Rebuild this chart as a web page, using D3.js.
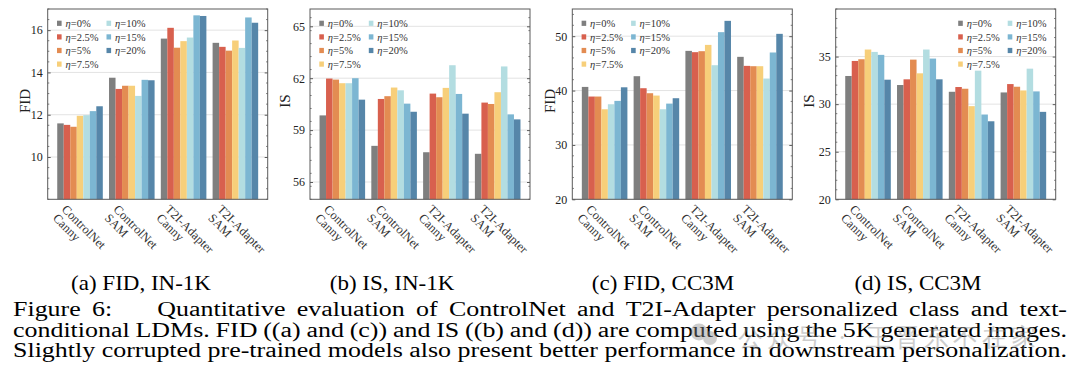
<!DOCTYPE html>
<html>
<head>
<meta charset="utf-8">
<script src="https://cdn.jsdelivr.net/npm/d3@7"></script>
<style>
  body { margin: 0; background: #fff; }
  svg text { font-family: "Liberation Serif", "DejaVu Serif", serif; }
</style>
</head>
<body>
<script>

// data
var categories = [["ControlNet", "Canny"], ["ControlNet", "SAM"], ["T2I-Adapter", "Canny"], ["T2I-Adapter", "SAM"]];
var etaLabels = ["0%", "2.5%", "5%", "7.5%", "10%", "15%", "20%"];

var fidIN1K = [[11.59, 11.52, 11.43, 11.95, 11.98, 12.17, 12.40],
               [13.75, 13.22, 13.37, 13.37, 12.89, 13.65, 13.63],
               [15.60, 16.11, 15.17, 15.48, 15.65, 16.70, 16.67],
               [15.40, 15.21, 15.03, 15.51, 15.16, 16.60, 16.35]];
var isIN1K = [[59.85, 61.98, 61.92, 61.71, 61.71, 62.00, 60.76],
              [58.09, 60.80, 60.96, 61.46, 61.30, 60.53, 60.06],
              [57.72, 61.11, 60.90, 61.44, 62.75, 61.09, 59.95],
              [57.63, 60.59, 60.51, 61.19, 62.68, 59.91, 59.62]];
var fidCC3M = [[40.67, 38.90, 38.90, 36.56, 37.48, 38.10, 40.60],
               [42.64, 40.43, 39.51, 39.08, 36.56, 37.60, 38.59],
               [47.30, 47.06, 47.24, 48.40, 44.66, 50.74, 52.82],
               [46.20, 44.54, 44.48, 44.48, 42.21, 47.00, 50.43]];
var isCC3M = [[32.96, 34.54, 34.72, 35.74, 35.49, 35.18, 32.57],
              [32.01, 32.61, 34.68, 33.24, 35.74, 34.79, 32.61],
              [31.30, 31.80, 31.62, 29.79, 33.52, 28.91, 28.20],
              [31.23, 32.11, 31.83, 31.44, 33.73, 31.34, 29.19]];

var fidIN1KTicks = [10, 12, 14, 16];
var isIN1KTicks = [56, 59, 62, 65];
var fidCC3MTicks = [20, 30, 40, 50];
var isCC3MTicks = [20, 25, 30, 35];

var colors = ["#7f7f7f", "#d8604e", "#e38c52", "#f7cf7a", "#b3dde1", "#7cb6d2", "#5686a9"];

var panels = [
  { values: fidIN1K, ticks: fidIN1KTicks, domain: [8, 17],  minor: 0.5, ylabel: "FID", left: 47.7,  labelX: 25,  legendX: 9.3,   caption: "(a) FID, IN-1K", capX: 141 },
  { values: isIN1K,  ticks: isIN1KTicks,  domain: [55, 66], minor: 0.75, ylabel: "IS", left: 310,   labelX: 285, legendX: 9.3,   caption: "(b) IS, IN-1K",  capX: 392 },
  { values: fidCC3M, ticks: fidCC3MTicks, domain: [20, 55], minor: 2,   ylabel: "FID", left: 572.3, labelX: 550, legendX: 9.3,   caption: "(c) FID, CC3M",  capX: 663 },
  { values: isCC3M,  ticks: isCC3MTicks,  domain: [20, 40], minor: 1,   ylabel: "IS",  left: 835.7, labelX: 809, legendX: 122.5, caption: "(d) IS, CC3M",   capX: 918 }
];

var W = 1080, H = 387;
var plotW = 220, plotTop = 9, plotBottom = 199.3;
var serif = "Liberation Serif, DejaVu Serif, serif";

var svg = d3.select("body").append("svg")
    .attr("width", W)
    .attr("height", H);

svg.append("rect").attr("width", W).attr("height", H).attr("fill", "#fff");

panels.forEach(function (p) {
  var g = svg.append("g").attr("transform", "translate(" + p.left + ",0)");

  var x0 = d3.scaleBand()
      .domain(d3.range(categories.length))
      .range([0, plotW])
      .paddingInner(0.12)
      .paddingOuter(0.184);
  var x1 = d3.scaleBand()
      .domain(d3.range(etaLabels.length))
      .range([0, x0.bandwidth()]);
  var y = d3.scaleLinear().domain(p.domain).range([plotBottom, plotTop]);

  // grid
  g.selectAll("line.grid")
    .data(p.ticks)
    .enter().append("line")
      .attr("class", "grid")
      .attr("x1", 0).attr("x2", plotW)
      .attr("y1", function (d) { return y(d); })
      .attr("y2", function (d) { return y(d); })
      .attr("stroke", "#e3e3e3")
      .attr("stroke-width", 1);

  // bars
  var grp = g.selectAll("g.grp")
    .data(p.values)
    .enter().append("g")
      .attr("class", "grp")
      .attr("transform", function (d, i) { return "translate(" + x0(i) + ",0)"; });

  grp.selectAll("rect")
    .data(function (d) { return d; })
    .enter().append("rect")
      .attr("x", function (d, j) { return x1(j); })
      .attr("y", function (d) { return y(d); })
      .attr("width", x1.bandwidth())
      .attr("height", function (d) { return plotBottom - y(d); })
      .attr("fill", function (d, j) { return colors[j]; });

  // frame
  g.append("rect")
    .attr("x", 0).attr("y", plotTop)
    .attr("width", plotW).attr("height", plotBottom - plotTop)
    .attr("fill", "none")
    .attr("stroke", "#5a5a5a")
    .attr("stroke-width", 1);

  // minor ticks, inside on both sides
  var minorVals = d3.range(p.domain[0], p.domain[1] + 1e-9, p.minor)
      .filter(function (v) { return p.ticks.indexOf(+v.toFixed(3)) < 0; });
  [0, plotW].forEach(function (xs) {
    g.selectAll(null)
      .data(minorVals)
      .enter().append("line")
        .attr("x1", xs).attr("x2", xs === 0 ? 1.6 : plotW - 1.6)
        .attr("y1", function (d) { return y(d); })
        .attr("y2", function (d) { return y(d); })
        .attr("stroke", "#5a5a5a")
        .attr("stroke-width", 0.8);
  });

  // y axis (major ticks inside)
  var yAxis = g.append("g")
    .call(d3.axisLeft(y).tickValues(p.ticks).tickSize(-3).tickPadding(5))
    .call(function (a) { a.select(".domain").remove(); });
  yAxis.selectAll("line").attr("stroke", "#5a5a5a");
  yAxis.selectAll("text")
    .attr("font-family", serif)
    .attr("font-size", 12)
    .attr("fill", "#222");

  var yRight = g.append("g")
    .attr("transform", "translate(" + plotW + ",0)")
    .call(d3.axisRight(y).tickValues(p.ticks).tickSize(-3).tickFormat(""))
    .call(function (a) { a.select(".domain").remove(); });
  yRight.selectAll("line").attr("stroke", "#5a5a5a");

  // y label
  g.append("text")
    .attr("transform", "translate(" + (p.labelX - p.left) + "," + 101 + ") rotate(-90)")
    .attr("text-anchor", "middle")
    .attr("dy", "0.35em")
    .attr("font-family", serif)
    .attr("font-size", 15)
    .attr("fill", "#222")
    .text(p.ylabel);

  // x tick labels, rotated
  var xl = g.selectAll("text.xl")
    .data(categories)
    .enter().append("text")
      .attr("class", "xl")
      .attr("transform", function (d, i) {
        return "translate(" + (x0(i) + x0.bandwidth() / 2 - 19) + ",210) rotate(45)";
      })
      .attr("font-family", serif)
      .attr("font-size", 12.5)
      .attr("fill", "#333");
  xl.append("tspan").attr("x", 0).attr("dy", 0).text(function (d) { return d[0]; });
  xl.append("tspan").attr("x", 0).attr("dy", "1em").text(function (d) { return d[1]; });

  // legend
  var leg = g.append("g").attr("transform", "translate(" + p.legendX + ",0)");
  var item = leg.selectAll("g")
    .data(etaLabels)
    .enter().append("g")
      .attr("transform", function (d, i) {
        var col = i < 4 ? 0 : 1, row = i < 4 ? i : i - 4;
        return "translate(" + (col * 49.5) + "," + (23.3 + row * 13.6) + ")";
      });
  item.append("rect")
    .attr("x", 0).attr("y", -2.6)
    .attr("width", 4.6).attr("height", 5.2)
    .attr("fill", function (d, i) { return colors[i]; });
  var lt = item.append("text")
    .attr("x", 8.5).attr("dy", "0.35em")
    .attr("font-family", serif)
    .attr("font-size", 10.5)
    .attr("fill", "#333");
  lt.append("tspan").attr("font-style", "italic").text("η");
  lt.append("tspan").text(function (d) { return "=" + d; });

  // sub caption
  svg.append("text")
    .attr("transform", "translate(" + p.capX + ",290) scale(1.15,1)")
    .attr("text-anchor", "middle")
    .attr("font-family", serif)
    .attr("font-size", 20)
    .attr("fill", "#000")
    .text(p.caption);
});

// figure caption, justified line by line
var captionLines = [
  { words: ["Figure", "6:", "Quantitative", "evaluation", "of", "ControlNet", "and", "T2I-Adapter", "personalized", "class", "and", "text-"], wide: 1 },
  { words: ["conditional", "LDMs.", "FID", "((a)", "and", "(c))", "and", "IS", "((b)", "and", "(d))", "are", "computed", "using", "the", "5K", "generated", "images."], wide: -1 },
  { words: ["Slightly", "corrupted", "pre-trained", "models", "also", "present", "better", "performance", "in", "downstream", "personalization."], wide: -1 }
];
var capX0 = 13, capX1 = 1067, capFS = 20.5;

// horizontal stretch so that the last (unstretched) line fills the width
var probe = svg.append("text").attr("font-family", serif).attr("font-size", capFS)
    .text(captionLines[2].words.join(" "));
var capSX = (capX1 - capX0) / probe.node().getComputedTextLength();
probe.remove();

captionLines.forEach(function (line, li) {
  var yb = 316 + li * 20.5;
  var nodes = line.words.map(function (w) {
    return svg.append("text")
      .attr("font-family", serif)
      .attr("font-size", capFS)
      .attr("fill", "#000")
      .text(w);
  });
  var widths = nodes.map(function (n) { return n.node().getComputedTextLength() * capSX; });
  var weights = line.words.slice(1).map(function (w, i) { return i === line.wide ? 4 : 1; });
  var gap = (capX1 - capX0 - d3.sum(widths)) / d3.sum(weights);
  var xx = capX0;
  nodes.forEach(function (n, i) {
    n.attr("transform", "translate(" + xx + "," + yb + ") scale(" + capSX + ",1)");
    xx += widths[i] + (i < weights.length ? gap * weights[i] : 0);
  });
});

// faint watermark over the caption
var wm = svg.append("g").attr("opacity", 0.42).attr("fill", "#8a8a8a");
wm.append("circle").attr("cx", 699).attr("cy", 332).attr("r", 8.5);
wm.append("circle").attr("cx", 710).attr("cy", 338).attr("r", 7);
[["公众号", 738], ["·", 838], ["王晋东不在家", 866]].forEach(function (t) {
  wm.append("text")
    .attr("x", t[1]).attr("y", 346)
    .attr("font-family", "Noto Sans CJK SC")
    .attr("font-size", 25)
    .attr("letter-spacing", 4)
    .text(t[0]);
});

</script>
</body>
</html>
